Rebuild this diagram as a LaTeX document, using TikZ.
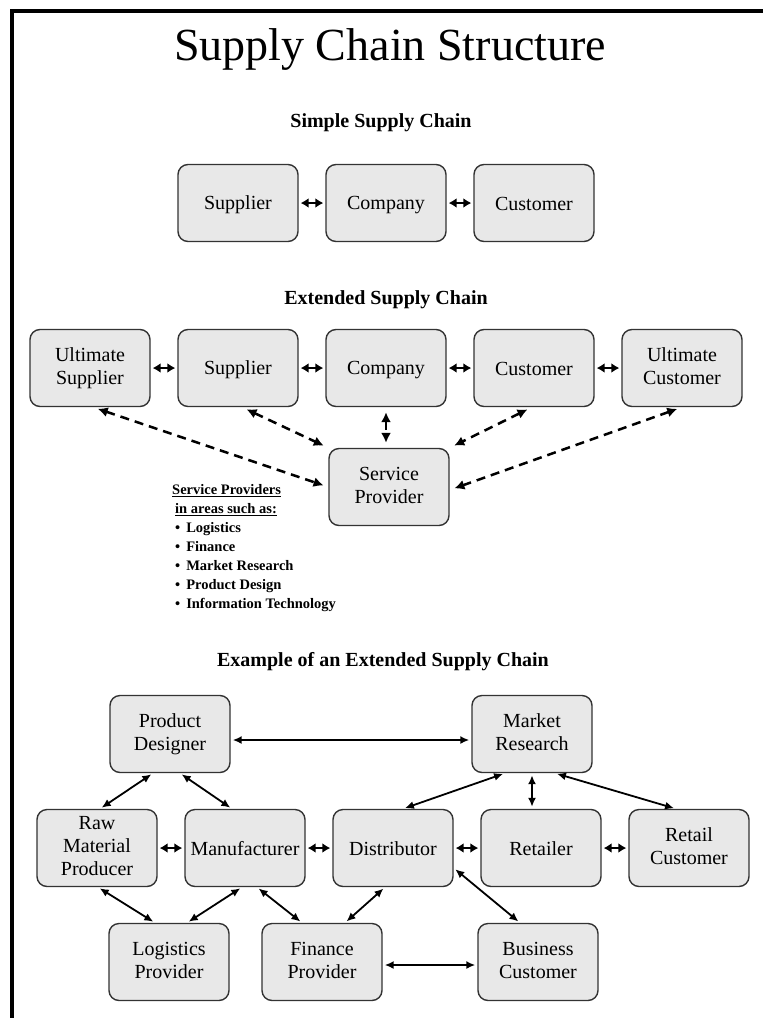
\documentclass[tikz,border=0pt]{standalone}
\usepackage{fontspec}
\setmainfont{Liberation Serif}
\usetikzlibrary{arrows.meta,positioning}
\newcommand\boxstrut{\rule[-4pt]{0pt}{22pt}}

\begin{document}
\begin{tikzpicture}[x=1pt, y=-1pt, node distance=148pt,
    box/.style={rectangle, rounded corners=10pt, draw=black!80, line width=1.4pt, fill=black!9, minimum width=120pt, minimum height=77pt, inner sep=1pt, align=center, font=\fontsize{20}{23}\selectfont, execute at begin node=\boxstrut, execute at end node=\boxstrut},
    heading/.style={font=\bfseries\fontsize{20}{24}\selectfont},
    bigarrow/.style={{Latex[length=8pt,width=10pt]}-{Latex[length=8pt,width=10pt]}, line width=2.8pt, shorten >=2pt, shorten <=2pt},
    dasharrow/.style={{Latex[length=10pt,width=10pt]}-{Latex[length=10pt,width=10pt]}, line width=2.5pt, dash pattern=on 9pt off 6pt, shorten >=5pt, shorten <=5pt},
    thinarrow/.style={{Latex[length=9pt,width=8pt]}-{Latex[length=9pt,width=8pt]}, line width=1.8pt, shorten >=2pt, shorten <=2pt}]
        \useasboundingbox (0,0) rectangle (763,1018);
        \draw[line width=3.5pt] (12,1018) -- (12,11) -- (763,11);

        \node(title) at (390,50) {\fontsize{46}{50}\selectfont Supply Chain Structure};

        \node(simplehead)[heading] at (381,123) {Simple Supply Chain};
        \node(ssupplier)[box] at (238,203) {Supplier};
        \node(scompany)[box, right of=ssupplier]{Company};
        \node(scustomer)[box, right of=scompany]{Customer};

        \draw[bigarrow] (ssupplier) -- (scompany);
        \draw[bigarrow] (scompany) -- (scustomer);

        \node(exthead)[heading] at (386,300) {Extended Supply Chain};
        \node(eultsupplier)[box] at (90,368) {Ultimate\\Supplier};
        \node(esupplier)[box, right of=eultsupplier]{Supplier};
        \node(ecompany)[box, right of=esupplier]{Company};
        \node(ecustomer)[box, right of=ecompany]{Customer};
        \node(eultcustomer)[box, right of=ecustomer]{Ultimate\\Customer};
        \node(service)[box] at (389,487) {Service\\Provider};
        \node(arealist)[anchor=north west, inner sep=0pt, align=left, font=\bfseries\fontsize{14.5}{19}\selectfont] at (172,484) {\underline{Service Providers}\\
            \hspace*{3pt}\underline{in areas such as:}\\
            \hspace*{3pt}\textbullet\hspace{6pt}Logistics\\
            \hspace*{3pt}\textbullet\hspace{6pt}Finance\\
            \hspace*{3pt}\textbullet\hspace{6pt}Market Research\\
            \hspace*{3pt}\textbullet\hspace{6pt}Product Design\\
            \hspace*{3pt}\textbullet\hspace{6pt}Information Technology};

        \draw[bigarrow] (eultsupplier) -- (esupplier);
        \draw[bigarrow] (esupplier) -- (ecompany);
        \draw[bigarrow] (ecompany) -- (ecustomer);
        \draw[bigarrow] (ecustomer) -- (eultcustomer);
        \draw[dasharrow] ([xshift=3pt]eultsupplier.south) -- (service.west);
        \draw[dasharrow] ([xshift=4pt]esupplier.south) -- (service.north west);
        \draw[dasharrow] (ecompany.south) -- (ecompany.south |- service.north);
        \draw[dasharrow] ([xshift=-2pt]ecustomer.south) -- (service.north east);
        \draw[dasharrow] (eultcustomer.south) -- ([yshift=-3pt]service.east);

        \node(examplehead)[heading] at (383,662) {Example of an Extended Supply Chain};
        \node(designer)[box] at (170,734) {Product\\Designer};
        \node(research)[box] at (532,734) {Market\\Research};
        \node(rawmat)[box] at (97,848) {Raw\\Material\\Producer};
        \node(manufacturer)[box, right of=rawmat]{Manufacturer};
        \node(distributor)[box, right of=manufacturer]{Distributor};
        \node(retailer)[box, right of=distributor]{Retailer};
        \node(retcustomer)[box, right of=retailer]{Retail\\Customer};
        \node(logistics)[box] at (169,962) {Logistics\\Provider};
        \node(finance)[box] at (322,962) {Finance\\Provider};
        \node(buscustomer)[box] at (538,962) {Business\\Customer};

        \draw[thinarrow] ([yshift=-6pt]designer.east) -- ([yshift=-6pt]research.west);
        \draw[thinarrow] ([xshift=-17pt]designer.south) -- ([xshift=3pt]rawmat.north);
        \draw[thinarrow] ([xshift=10pt]designer.south) -- ([xshift=-13pt]manufacturer.north);
        \draw[bigarrow] (rawmat) -- (manufacturer);
        \draw[bigarrow] (manufacturer) -- (distributor);
        \draw[bigarrow] (distributor) -- (retailer);
        \draw[bigarrow] (retailer) -- (retcustomer);
        \draw[thinarrow] ([xshift=1pt]rawmat.south) -- ([xshift=-14pt]logistics.north);
        \draw[thinarrow] ([xshift=-3pt]manufacturer.south) -- ([xshift=18pt]logistics.north);
        \draw[thinarrow] ([xshift=12pt]manufacturer.south) -- ([xshift=-20pt]finance.north);
        \draw[thinarrow] ([xshift=-8pt]distributor.south) -- ([xshift=23pt]finance.north);
        \draw[thinarrow] ([yshift=-20pt]distributor.east) -- ([xshift=-18pt]buscustomer.north);
        \draw[thinarrow] ([yshift=-3pt]finance.east) -- ([yshift=-3pt]buscustomer.west);
        \draw[thinarrow] ([xshift=-27pt]research.south) -- ([xshift=10pt]distributor.north);
        \draw[thinarrow] (research.south) -- (research.south |- retailer.north);
        \draw[thinarrow] ([xshift=23pt]research.south) -- ([xshift=-13pt]retcustomer.north);
    \end{tikzpicture}
\end{document}
